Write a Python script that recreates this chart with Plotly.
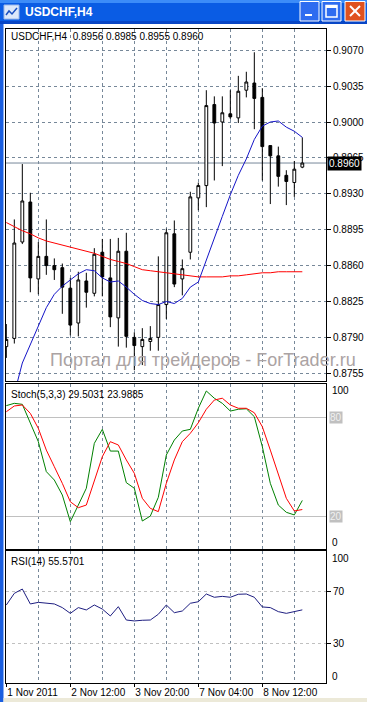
import plotly.graph_objects as go

# ---------------- data ----------------
SYMBOL = "USDCHF,H4"
BARS = list(range(38))
OPEN = [0.8781, 0.8789, 0.8883, 0.8922, 0.8847, 0.8869, 0.8860, 0.8858, 0.8838, 0.8804,
        0.8845, 0.8833, 0.8873, 0.8848, 0.8809, 0.8874, 0.8790, 0.8781, 0.8786, 0.8790,
        0.8822, 0.8891, 0.8847, 0.8873, 0.8926, 0.8938, 0.9017, 0.9000, 0.9008, 0.9004,
        0.9031, 0.9038, 0.9024, 0.8977, 0.8967, 0.8948, 0.8941, 0.8956]
HIGH = [0.8803, 0.8905, 0.8959, 0.8931, 0.8883, 0.8905, 0.8867, 0.8862, 0.8848, 0.8854,
        0.8853, 0.8877, 0.8886, 0.8886, 0.8887, 0.8892, 0.8795, 0.8799, 0.8801, 0.8869,
        0.8896, 0.8904, 0.8866, 0.8932, 0.8941, 0.9031, 0.9025, 0.9025, 0.9031, 0.9045,
        0.9049, 0.9068, 0.9033, 0.8977, 0.8976, 0.8953, 0.8962, 0.8985]
LOW = [0.8770, 0.8784, 0.8881, 0.8834, 0.8832, 0.8851, 0.8846, 0.8813, 0.8792, 0.8791,
       0.8819, 0.8830, 0.8830, 0.8800, 0.8781, 0.8780, 0.8758, 0.8763, 0.8777, 0.8777,
       0.8808, 0.8839, 0.8831, 0.8866, 0.8914, 0.8917, 0.8943, 0.8957, 0.9003, 0.8999,
       0.9024, 0.8993, 0.8943, 0.8920, 0.8937, 0.8919, 0.8927, 0.8955]
CLOSE = [0.8788, 0.8882, 0.8923, 0.8848, 0.8869, 0.8860, 0.8856, 0.8839, 0.8802, 0.8846,
         0.8834, 0.8871, 0.8849, 0.8810, 0.8874, 0.8791, 0.8782, 0.8788, 0.8789, 0.8822,
         0.8892, 0.8842, 0.8857, 0.8927, 0.8938, 0.9016, 0.8999, 0.9009, 0.9005, 0.9030,
         0.9039, 0.9023, 0.8976, 0.8967, 0.8947, 0.8942, 0.8954, 0.8960]
MA_FAST = [0.8719, 0.8735, 0.8765, 0.8783, 0.8800, 0.8819, 0.8832, 0.8840, 0.8846, 0.8852,
           0.8856, 0.8855, 0.8848, 0.8844, 0.8845, 0.8839, 0.8832, 0.8826, 0.8823, 0.8822,
           0.8825, 0.8823, 0.8828, 0.8839, 0.8844, 0.8866, 0.8886, 0.8908, 0.8929, 0.8948,
           0.8964, 0.8983, 0.8996, 0.9000, 0.9001, 0.8995, 0.8991, 0.8985]
MA_SLOW = [0.8902, 0.8898, 0.8894, 0.8891, 0.8887, 0.8884, 0.8882, 0.8880, 0.8878, 0.8876,
           0.8874, 0.8872, 0.8869, 0.8866, 0.8864, 0.8862, 0.8859, 0.8856, 0.8855, 0.8854,
           0.8853, 0.8852, 0.8851, 0.8850, 0.8849, 0.8849, 0.8849, 0.8849, 0.8850, 0.8850,
           0.8851, 0.8852, 0.8853, 0.8853, 0.8854, 0.8854, 0.8854, 0.8854]
STOCH_MAIN = [87.1, 88.5, 87.9, 76.4, 65.2, 47.0, 41.9, 32.8, 16.6, 26.7,
              36.9, 64.2, 72.7, 59.5, 59.5, 40.3, 36.9, 17.0, 20.0, 31.4,
              57.1, 66.2, 71.7, 72.7, 85.5, 96.0, 91.6, 88.5, 83.8, 84.9,
              85.2, 80.4, 62.2, 39.9, 26.7, 22.3, 20.7, 29.5031]
STOCH_SIGNAL = [83.4, 86.9, 87.5, 82.4, 73.3, 60.1, 50.0, 39.9, 28.7, 25.1,
                26.7, 41.9, 56.1, 65.2, 63.2, 54.1, 46.0, 30.8, 24.7, 22.7,
                39.9, 54.1, 65.2, 70.3, 76.7, 84.9, 90.5, 91.6, 87.5, 85.5,
                85.5, 82.8, 74.3, 60.1, 45.0, 30.8, 23.1, 23.9885]
RSI = [59.3, 68.2, 71.5, 60.1, 61.3, 60.6, 60.1, 57.3, 52.9, 57.3,
       55.5, 59.3, 56.2, 50.9, 58.0, 47.8, 47.1, 47.6, 47.8, 52.2,
       59.3, 53.4, 54.7, 60.6, 61.8, 67.7, 65.2, 65.9, 65.2, 67.5,
       67.7, 65.2, 57.8, 57.3, 54.2, 52.9, 54.2, 55.5701]
PRICE_TICKS = [0.9070, 0.9035, 0.9000, 0.8965, 0.8930, 0.8895, 0.8860, 0.8825, 0.8790, 0.8755]
TIME_TICK_POS = [0, 8, 16, 24, 32]
TIME_TICK_LABELS = ["1 Nov 2011", "2 Nov 12:00", "3 Nov 20:00", "7 Nov 04:00", "8 Nov 12:00"]
GRID_POS = [4, 12, 20, 28, 36]
STOCH_LEVELS = [20, 80]
RSI_LEVELS = [30, 70]
WATERMARK = "Портал для трейдеров - ForTrader.ru"

# ---------------- geometry helpers ----------------
W, H = 367, 702
def px(x):
    return x / W
def py(y):
    return 1 - y / H

FONT = "Tahoma, Liberation Sans, Arial, sans-serif"
GRID = "#778899"
GDASH = "3px,3px"

fig = go.Figure()
fig.add_trace(go.Candlestick(
    x=BARS, open=OPEN, high=HIGH, low=LOW, close=CLOSE,
    increasing=dict(line=dict(color="black", width=1), fillcolor="white"),
    decreasing=dict(line=dict(color="black", width=1), fillcolor="black"),
    whiskerwidth=0, hoverinfo="skip", xaxis="x", yaxis="y", showlegend=False))
fig.add_trace(go.Scatter(x=BARS, y=MA_SLOW, mode="lines", line=dict(color="#FF0000", width=1),
                         xaxis="x", yaxis="y", hoverinfo="skip", showlegend=False))
fig.add_trace(go.Scatter(x=BARS, y=MA_FAST, mode="lines", line=dict(color="#1414C8", width=1),
                         xaxis="x", yaxis="y", hoverinfo="skip", showlegend=False))
fig.add_trace(go.Scatter(x=BARS, y=STOCH_MAIN, mode="lines", line=dict(color="#008000", width=1),
                         xaxis="x2", yaxis="y2", hoverinfo="skip", showlegend=False))
fig.add_trace(go.Scatter(x=BARS, y=STOCH_SIGNAL, mode="lines", line=dict(color="#FF0000", width=1),
                         xaxis="x2", yaxis="y2", hoverinfo="skip", showlegend=False))
fig.add_trace(go.Scatter(x=BARS, y=RSI, mode="lines", line=dict(color="#1E1E80", width=1),
                         xaxis="x3", yaxis="y3", hoverinfo="skip", showlegend=False))

XRANGE = [-0.04, 39.96]
def xax(anchor, labels=False):
    d = dict(domain=[px(6), px(326)], range=XRANGE, anchor=anchor,
             showline=True, mirror=True, linecolor="black", linewidth=1,
             zeroline=False, showgrid=True, gridcolor=GRID, griddash=GDASH, gridwidth=1,
             tickmode="array", tickvals=TIME_TICK_POS,
             minor=dict(tickmode="array", tickvals=GRID_POS, showgrid=True,
                        gridcolor=GRID, griddash=GDASH, gridwidth=1, ticks=""),
             rangeslider=dict(visible=False), fixedrange=True)
    if labels:
        d.update(ticktext=TIME_TICK_LABELS, showticklabels=True, ticks="outside", ticklen=3,
                 tickcolor="black", ticklabelposition="outside right",
                 tickfont=dict(family=FONT, size=10, color="black"))
    else:
        d.update(showticklabels=False, ticks="")
    return d

main_dom = [py(381), py(29)]
stoch_dom = [py(549), py(383.5)]
rsi_dom = [py(682.5), py(551)]

fig.update_layout(
    width=W, height=H, margin=dict(l=0, r=0, t=0, b=0),
    paper_bgcolor="white", plot_bgcolor="white", boxgap=0.5,
    showlegend=False,
    xaxis=xax("y"),
    xaxis2={**xax("y2"), "matches": "x"},
    xaxis3={**xax("y3", labels=True), "matches": "x"},
    yaxis=dict(domain=main_dom, range=[0.874748, 0.909068], anchor="x", side="right",
               tickmode="array", tickvals=PRICE_TICKS, tickformat=".4f",
               ticks="outside", ticklen=4, tickcolor="black",
               tickfont=dict(family=FONT, size=10, color="black"),
               showgrid=True, gridcolor=GRID, griddash=GDASH, zeroline=False,
               showline=True, mirror=True, linecolor="black", fixedrange=True),
    yaxis2=dict(domain=stoch_dom, range=[0, 100.55], anchor="x2", side="right",
                tickmode="array", tickvals=STOCH_LEVELS, showticklabels=False, ticks="",
                showgrid=True, gridcolor="#C0C0C0", griddash="solid", zeroline=False,
                showline=True, mirror=True, linecolor="black", fixedrange=True),
    yaxis3=dict(domain=rsi_dom, range=[0, 100.6], anchor="x3", side="right",
                tickmode="array", tickvals=RSI_LEVELS, ticks="outside", ticklen=4,
                tickcolor="black", tickfont=dict(family=FONT, size=10, color="black"),
                showgrid=True, gridcolor="#C0C0C0", griddash=GDASH, zeroline=False,
                showline=True, mirror=True, linecolor="black", fixedrange=True),
)

shapes = []
# current price line
shapes.append(dict(type="line", xref="x domain", yref="y", x0=0, x1=1, y0=CLOSE[-1], y1=CLOSE[-1],
                   line=dict(color=GRID, width=1), layer="below"))
# window chrome: title bar
shapes.append(dict(type="rect", xref="paper", yref="paper", x0=0, x1=1, y0=py(24), y1=1,
                   fillcolor="#0A5CE4", line=dict(width=0), layer="above"))
shapes.append(dict(type="rect", xref="paper", yref="paper", x0=0, x1=1, y0=py(3), y1=1,
                   fillcolor="#3C8CF8", line=dict(width=0), layer="above"))
shapes.append(dict(type="rect", xref="paper", yref="paper", x0=0, x1=1, y0=py(24), y1=py(21),
                   fillcolor="#0846C6", line=dict(width=0), layer="above"))
# left frame
shapes.append(dict(type="rect", xref="paper", yref="paper", x0=0, x1=px(3.5), y0=0, y1=py(24),
                   fillcolor="#1B5FE0", line=dict(width=0), layer="above"))
# bottom strip
shapes.append(dict(type="rect", xref="paper", yref="paper", x0=px(3.5), x1=1, y0=0, y1=py(698),
                   fillcolor="#ECE9D8", line=dict(width=0), layer="above"))
# icon
shapes.append(dict(type="rect", xref="paper", yref="paper", x0=px(4), x1=px(19), y0=py(19), y1=py(5),
                   fillcolor="#DCE8FA", line=dict(color="#9CB8E8", width=1), layer="above"))
shapes.append(dict(type="path", xref="paper", yref="paper",
                   path=f"M {px(6)},{py(15)} L {px(9)},{py(11)} L {px(12)},{py(14)} L {px(17)},{py(8)}",
                   line=dict(color="#1A50C0", width=1.5), layer="above"))
# buttons
for x0, x1, col in [(300, 319, "#2E6CF0"), (322, 341, "#2E6CF0"), (345, 365, "#E0521F")]:
    shapes.append(dict(type="rect", xref="paper", yref="paper", x0=px(x0), x1=px(x1),
                       y0=py(21), y1=py(1.5), fillcolor=col, line=dict(color="white", width=1),
                       layer="above"))
shapes.append(dict(type="rect", xref="paper", yref="paper", x0=px(305), x1=px(312), y0=py(16), y1=py(14),
                   fillcolor="white", line=dict(width=0), layer="above"))
shapes.append(dict(type="rect", xref="paper", yref="paper", x0=px(326), x1=px(337), y0=py(17), y1=py(5.5),
                   fillcolor="rgba(0,0,0,0)", line=dict(color="white", width=1.5), layer="above"))
shapes.append(dict(type="rect", xref="paper", yref="paper", x0=px(326), x1=px(337), y0=py(8), y1=py(5.5),
                   fillcolor="white", line=dict(width=0), layer="above"))
shapes.append(dict(type="line", xref="paper", yref="paper", x0=px(350), x1=px(360), y0=py(6), y1=py(16),
                   line=dict(color="white", width=2), layer="above"))
shapes.append(dict(type="line", xref="paper", yref="paper", x0=px(350), x1=px(360), y0=py(16), y1=py(6),
                   line=dict(color="white", width=2), layer="above"))
fig.update_layout(shapes=shapes)

ann = []
def text(x, y, s, size=10, color="black", xanchor="left", yanchor="middle", **kw):
    d = dict(x=x, y=y, xref="paper", yref="paper", text=s, showarrow=False,
             xanchor=xanchor, yanchor=yanchor, font=dict(family=FONT, size=size, color=color))
    d.update(kw)
    ann.append(d)

text(px(23), py(12), f"<b>{SYMBOL}</b>", size=12, color="white")
text(px(9), py(36.5), f"{SYMBOL}  {OPEN[-1]:.4f} {HIGH[-1]:.4f} {LOW[-1]:.4f} {CLOSE[-1]:.4f}")
text(px(9), py(394), f"Stoch(5,3,3) {STOCH_MAIN[-1]:.4f} {STOCH_SIGNAL[-1]:.4f}")
text(px(9), py(561), f"RSI(14) {RSI[-1]:.4f}")
# current price label
ann.append(dict(x=px(327), y=CLOSE[-1], xref="paper", yref="y", text=f"{CLOSE[-1]:.4f}",
                showarrow=False, xanchor="left", yanchor="middle", bgcolor="black",
                font=dict(family=FONT, size=10, color="white"), borderpad=1))
# stoch axis labels
text(px(330), py(390), "100")
text(px(330), py(542), "0")
for lv in STOCH_LEVELS:
    ann.append(dict(x=px(328.5), y=lv, xref="paper", yref="y2", text=str(lv), showarrow=False,
                    xanchor="left", yanchor="middle", bgcolor="#C0C0C0",
                    font=dict(family=FONT, size=10, color="#F0F0F0"), borderpad=0))
# rsi axis labels
text(px(330), py(558), "100")
text(px(330), py(676.5), "0")
# watermark
text(px(203), py(360), WATERMARK, size=18, color="#ABA3A3", xanchor="center")
fig.update_layout(annotations=ann)

fig.write_html("out.html", config={"displayModeBar": False, "staticPlot": True},
               post_script="document.body.style.margin='0px';document.body.style.overflow='hidden';")
